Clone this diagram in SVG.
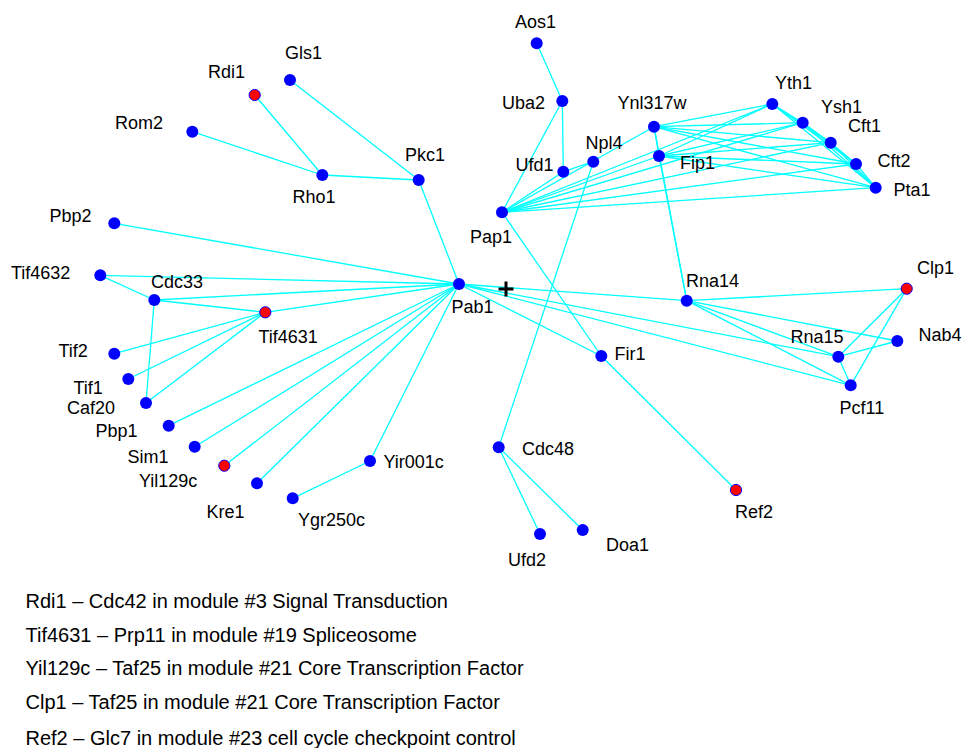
<svg xmlns="http://www.w3.org/2000/svg" width="968" height="748" viewBox="0 0 968 748">
<style>
.e{stroke:#00ffff;stroke-width:1.3;fill:none}
.n{fill:#0000ff}
.r{fill:#ff0000;stroke:#0000ff;stroke-width:1}
text{font-family:"Liberation Sans",Arial,sans-serif;font-size:18px;fill:#000}
#legend text{font-size:20px}
</style>
<rect width="968" height="748" fill="#fff"/>
<g id="connectors">
<line class="e" x1="536.7" y1="43.3" x2="562.3" y2="101"/>
<line class="e" x1="562.3" y1="101" x2="563.3" y2="171.7"/>
<line class="e" x1="562.3" y1="101" x2="502" y2="212.3"/>
<line class="e" x1="502" y1="212.3" x2="563.3" y2="171.7"/>
<line class="e" x1="563.3" y1="171.7" x2="593.3" y2="161.7"/>
<line class="e" x1="502" y1="212.3" x2="654" y2="126.7"/>
<line class="e" x1="593.3" y1="161.7" x2="498.7" y2="447.3"/>
<line class="e" x1="502" y1="212.3" x2="659" y2="156"/>
<line class="e" x1="502" y1="212.3" x2="772.3" y2="104"/>
<line class="e" x1="502" y1="212.3" x2="802.7" y2="122.7"/>
<line class="e" x1="502" y1="212.3" x2="830.7" y2="142.7"/>
<line class="e" x1="502" y1="212.3" x2="856" y2="164"/>
<line class="e" x1="502" y1="212.3" x2="875.7" y2="187.7"/>
<line class="e" x1="502" y1="212.3" x2="601.3" y2="356"/>
<line class="e" x1="654" y1="126.7" x2="659" y2="156"/>
<line class="e" x1="654" y1="126.7" x2="686.7" y2="300.7"/>
<line class="e" x1="659" y1="156" x2="686.7" y2="300.7"/>
<line class="e" x1="654" y1="126.7" x2="772.3" y2="104"/>
<line class="e" x1="654" y1="126.7" x2="802.7" y2="122.7"/>
<line class="e" x1="654" y1="126.7" x2="830.7" y2="142.7"/>
<line class="e" x1="654" y1="126.7" x2="856" y2="164"/>
<line class="e" x1="654" y1="126.7" x2="875.7" y2="187.7"/>
<line class="e" x1="659" y1="156" x2="772.3" y2="104"/>
<line class="e" x1="659" y1="156" x2="802.7" y2="122.7"/>
<line class="e" x1="659" y1="156" x2="830.7" y2="142.7"/>
<line class="e" x1="659" y1="156" x2="856" y2="164"/>
<line class="e" x1="659" y1="156" x2="875.7" y2="187.7"/>
<line class="e" x1="772.3" y1="104" x2="802.7" y2="122.7"/>
<line class="e" x1="772.3" y1="104" x2="830.7" y2="142.7"/>
<line class="e" x1="772.3" y1="104" x2="856" y2="164"/>
<line class="e" x1="772.3" y1="104" x2="875.7" y2="187.7"/>
<line class="e" x1="802.7" y1="122.7" x2="830.7" y2="142.7"/>
<line class="e" x1="802.7" y1="122.7" x2="856" y2="164"/>
<line class="e" x1="802.7" y1="122.7" x2="875.7" y2="187.7"/>
<line class="e" x1="830.7" y1="142.7" x2="856" y2="164"/>
<line class="e" x1="830.7" y1="142.7" x2="875.7" y2="187.7"/>
<line class="e" x1="856" y1="164" x2="875.7" y2="187.7"/>
<line class="e" x1="254.7" y1="95" x2="322.3" y2="175"/>
<line class="e" x1="192.3" y1="131.7" x2="322.3" y2="175"/>
<line class="e" x1="322.3" y1="175" x2="418.7" y2="180"/>
<line class="e" x1="290" y1="80" x2="418.7" y2="180"/>
<line class="e" x1="418.7" y1="180" x2="459" y2="284"/>
<line class="e" x1="114.3" y1="223.3" x2="459" y2="284"/>
<line class="e" x1="100.3" y1="275.3" x2="459" y2="284"/>
<line class="e" x1="100.3" y1="275.3" x2="154.3" y2="300"/>
<line class="e" x1="154.3" y1="300" x2="459" y2="284"/>
<line class="e" x1="154.3" y1="300" x2="265.3" y2="312.3"/>
<line class="e" x1="154.3" y1="300" x2="146" y2="403"/>
<line class="e" x1="265.3" y1="312.3" x2="459" y2="284"/>
<line class="e" x1="265.3" y1="312.3" x2="114.3" y2="353.7"/>
<line class="e" x1="265.3" y1="312.3" x2="128.3" y2="379"/>
<line class="e" x1="265.3" y1="312.3" x2="146" y2="403"/>
<line class="e" x1="459" y1="284" x2="168.7" y2="425.7"/>
<line class="e" x1="459" y1="284" x2="194.7" y2="446.7"/>
<line class="e" x1="459" y1="284" x2="224.3" y2="465.7"/>
<line class="e" x1="459" y1="284" x2="257" y2="483.3"/>
<line class="e" x1="459" y1="284" x2="370" y2="461"/>
<line class="e" x1="370" y1="461" x2="292.7" y2="498.3"/>
<line class="e" x1="459" y1="284" x2="686.7" y2="300.7"/>
<line class="e" x1="459" y1="284" x2="838.3" y2="356.7"/>
<line class="e" x1="459" y1="284" x2="850.7" y2="385.3"/>
<line class="e" x1="459" y1="284" x2="601.3" y2="356"/>
<line class="e" x1="686.7" y1="300.7" x2="906.7" y2="288.7"/>
<line class="e" x1="686.7" y1="300.7" x2="897.3" y2="341"/>
<line class="e" x1="686.7" y1="300.7" x2="838.3" y2="356.7"/>
<line class="e" x1="686.7" y1="300.7" x2="850.7" y2="385.3"/>
<line class="e" x1="906.7" y1="288.7" x2="838.3" y2="356.7"/>
<line class="e" x1="906.7" y1="288.7" x2="850.7" y2="385.3"/>
<line class="e" x1="838.3" y1="356.7" x2="897.3" y2="341"/>
<line class="e" x1="838.3" y1="356.7" x2="850.7" y2="385.3"/>
<line class="e" x1="601.3" y1="356" x2="736" y2="490"/>
<line class="e" x1="498.7" y1="447.3" x2="540" y2="534"/>
<line class="e" x1="498.7" y1="447.3" x2="582.7" y2="530"/>
</g>
<g id="Aos1"><circle class="n" cx="536.7" cy="43.3" r="6"/><text x="515" y="27.7">Aos1</text></g>
<g id="Uba2"><circle class="n" cx="562.3" cy="101" r="6"/><text x="502" y="108.7">Uba2</text></g>
<g id="Ufd1"><circle class="n" cx="563.3" cy="171.7" r="6"/><text x="515.5" y="171">Ufd1</text></g>
<g id="Npl4"><circle class="n" cx="593.3" cy="161.7" r="6"/><text x="585.5" y="148.7">Npl4</text></g>
<g id="Ynl317w"><circle class="n" cx="654" cy="126.7" r="6"/><text x="617.5" y="109.4">Ynl317w</text></g>
<g id="Fip1"><circle class="n" cx="659" cy="156" r="6"/><text x="680" y="168.7">Fip1</text></g>
<g id="Yth1"><circle class="n" cx="772.3" cy="104" r="6"/><text x="775" y="88.7">Yth1</text></g>
<g id="Ysh1"><circle class="n" cx="802.7" cy="122.7" r="6"/><text x="821" y="112.7">Ysh1</text></g>
<g id="Cft1"><circle class="n" cx="830.7" cy="142.7" r="6"/><text x="848" y="132">Cft1</text></g>
<g id="Cft2"><circle class="n" cx="856" cy="164" r="6"/><text x="877.5" y="166.7">Cft2</text></g>
<g id="Pta1"><circle class="n" cx="875.7" cy="187.7" r="6"/><text x="893.5" y="196">Pta1</text></g>
<g id="Pap1"><circle class="n" cx="502" cy="212.3" r="6"/><text x="470" y="242.7">Pap1</text></g>
<g id="Rdi1"><circle class="r" cx="254.7" cy="95" r="5.6"/><text x="208" y="78.3">Rdi1</text></g>
<g id="Gls1"><circle class="n" cx="290" cy="80" r="6"/><text x="285" y="59.4">Gls1</text></g>
<g id="Rom2"><circle class="n" cx="192.3" cy="131.7" r="6"/><text x="115" y="129">Rom2</text></g>
<g id="Rho1"><circle class="n" cx="322.3" cy="175" r="6"/><text x="292.5" y="202.7">Rho1</text></g>
<g id="Pkc1"><circle class="n" cx="418.7" cy="180" r="6"/><text x="405" y="161">Pkc1</text></g>
<g id="Pbp2"><circle class="n" cx="114.3" cy="223.3" r="6"/><text x="49.5" y="221.5">Pbp2</text></g>
<g id="Tif4632"><circle class="n" cx="100.3" cy="275.3" r="6"/><text x="11" y="278.7">Tif4632</text></g>
<g id="Cdc33"><circle class="n" cx="154.3" cy="300" r="6"/><text x="151" y="287.7">Cdc33</text></g>
<g id="Pab1"><circle class="n" cx="459" cy="284" r="6"/><text x="451.5" y="313.4">Pab1</text></g>
<g id="Tif4631"><circle class="r" cx="265.3" cy="312.3" r="5.6"/><text x="258.5" y="342.7">Tif4631</text></g>
<g id="Tif2"><circle class="n" cx="114.3" cy="353.7" r="6"/><text x="58.5" y="357">Tif2</text></g>
<g id="Tif1"><circle class="n" cx="128.3" cy="379" r="6"/><text x="73.5" y="393.7">Tif1</text></g>
<g id="Caf20"><circle class="n" cx="146" cy="403" r="6"/><text x="67" y="414.4">Caf20</text></g>
<g id="Pbp1"><circle class="n" cx="168.7" cy="425.7" r="6"/><text x="95.5" y="437">Pbp1</text></g>
<g id="Sim1"><circle class="n" cx="194.7" cy="446.7" r="6"/><text x="127.5" y="462.7">Sim1</text></g>
<g id="Yil129c"><circle class="r" cx="224.3" cy="465.7" r="5.6"/><text x="139" y="486.7">Yil129c</text></g>
<g id="Kre1"><circle class="n" cx="257" cy="483.3" r="6"/><text x="206.5" y="517.7">Kre1</text></g>
<g id="Ygr250c"><circle class="n" cx="292.7" cy="498.3" r="6"/><text x="298" y="526">Ygr250c</text></g>
<g id="Yir001c"><circle class="n" cx="370" cy="461" r="6"/><text x="383.5" y="468.4">Yir001c</text></g>
<g id="Rna14"><circle class="n" cx="686.7" cy="300.7" r="6"/><text x="686" y="286.7">Rna14</text></g>
<g id="Clp1"><circle class="r" cx="906.7" cy="288.7" r="5.6"/><text x="917" y="274.4">Clp1</text></g>
<g id="Nab4"><circle class="n" cx="897.3" cy="341" r="6"/><text x="918.5" y="341">Nab4</text></g>
<g id="Rna15"><circle class="n" cx="838.3" cy="356.7" r="6"/><text x="790.5" y="342.7">Rna15</text></g>
<g id="Pcf11"><circle class="n" cx="850.7" cy="385.3" r="6"/><text x="839.5" y="413.7">Pcf11</text></g>
<g id="Fir1"><circle class="n" cx="601.3" cy="356" r="6"/><text x="614.5" y="360">Fir1</text></g>
<g id="Cdc48"><circle class="n" cx="498.7" cy="447.3" r="6"/><text x="522" y="455">Cdc48</text></g>
<g id="Ref2"><circle class="r" cx="736" cy="490" r="5.6"/><text x="735" y="517.7">Ref2</text></g>
<g id="Ufd2"><circle class="n" cx="540" cy="534" r="6"/><text x="508" y="566">Ufd2</text></g>
<g id="Doa1"><circle class="n" cx="582.7" cy="530" r="6"/><text x="606" y="551">Doa1</text></g>
<g id="marker-cross" stroke="#000" stroke-width="3"><line x1="498.5" y1="289" x2="513.5" y2="289"/><line x1="506" y1="281.5" x2="506" y2="296.5"/></g>
<g id="legend">
<text x="25.5" y="607.5">Rdi1 – Cdc42 in module #3 Signal Transduction</text>
<text x="25.5" y="641.5">Tif4631 – Prp11 in module #19 Spliceosome</text>
<text x="25.5" y="674.5">Yil129c – Taf25 in module #21 Core Transcription Factor</text>
<text x="25.5" y="709">Clp1 – Taf25 in module #21 Core Transcription Factor</text>
<text x="25.5" y="745">Ref2 – Glc7 in module #23 cell cycle checkpoint control</text>
</g>
</svg>
